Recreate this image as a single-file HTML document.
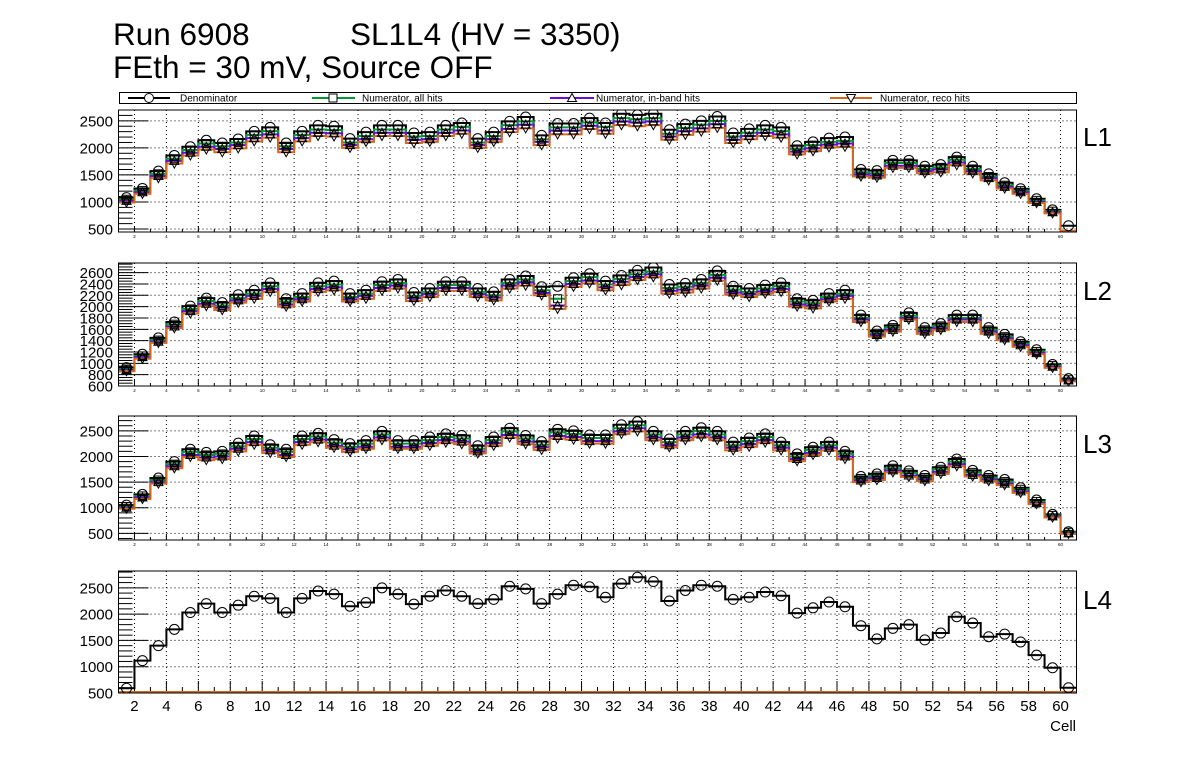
<!DOCTYPE html>
<html><head><meta charset="utf-8">
<style>
html,body{margin:0;padding:0;background:#fff;}
svg{display:block;font-family:"Liberation Sans",Arial,sans-serif;}
</style></head>
<body>
<svg id="c" width="1196" height="772" viewBox="0 0 1196 772" xmlns="http://www.w3.org/2000/svg">
<text x="113" y="45" font-size="31.5">Run 6908</text>
<text x="350" y="45" font-size="31.5">SL1L4 (HV = 3350)</text>
<text x="113" y="78" font-size="31.5">FEth = 30 mV, Source OFF</text>
<g>
<rect x="119.5" y="92.5" width="957" height="11" fill="#fff" stroke="#000" stroke-width="1"/>
<g>
<line x1="128" y1="98" x2="170" y2="98" stroke="#000" stroke-width="2"/>
<circle cx="149" cy="98" r="4.5" fill="#fff" stroke="#000"/>
<text x="180" y="101.5" font-size="10">Denominator</text></g>
<g>
<line x1="312" y1="98" x2="355" y2="98" stroke="#009933" stroke-width="2"/>
<rect x="329" y="94" width="8" height="8" fill="#fff" stroke="#000"/>
<text x="362" y="101.5" font-size="10">Numerator, all hits</text></g>
<g>
<line x1="550" y1="98" x2="594" y2="98" stroke="#6a0dd6" stroke-width="2"/>
<path d="M572,93.5 L576.5,101.5 L567.5,101.5 Z" fill="#fff" stroke="#000"/>
<text x="596" y="101.5" font-size="10">Numerator, in-band hits</text></g>
<g>
<line x1="830" y1="98" x2="872" y2="98" stroke="#d2691e" stroke-width="2"/>
<path d="M851,102.5 L855.5,94.5 L846.5,94.5 Z" fill="#fff" stroke="#000"/>
<text x="880" y="101.5" font-size="10">Numerator, reco hits</text></g>
</g>
</svg>
<script>
// ---- data ----
const cells = Array.from({length:60},(_,i)=>i+1);
const den1 = [1080,1250,1570,1860,2020,2140,2090,2165,2305,2380,2090,2305,2415,2400,2170,2290,2415,2415,2275,2290,2415,2460,2170,2290,2490,2570,2230,2450,2450,2550,2460,2630,2610,2630,2335,2440,2500,2580,2275,2350,2415,2380,2040,2110,2180,2200,1600,1580,1770,1770,1660,1690,1830,1660,1520,1355,1245,1060,855,560];
const all1 = [1050,1210,1520,1800,1960,2080,2030,2100,2240,2310,2030,2240,2340,2330,2100,2220,2340,2340,2210,2220,2340,2390,2100,2220,2420,2490,2160,2380,2380,2470,2390,2550,2530,2550,2260,2370,2430,2500,2210,2280,2340,2310,1980,2050,2110,2130,1550,1530,1720,1720,1610,1640,1780,1610,1470,1310,1210,1030,830,0];
const inb1 = [1020,1180,1480,1760,1910,2020,1980,2050,2180,2250,1980,2180,2280,2270,2050,2160,2280,2280,2150,2160,2280,2320,2050,2160,2350,2430,2110,2320,2320,2410,2320,2490,2470,2490,2210,2310,2360,2440,2150,2220,2280,2250,1930,1990,2060,2080,1510,1490,1670,1670,1570,1600,1730,1570,1440,1280,1180,1000,810,0];
const reco1 = [990,1150,1440,1710,1860,1970,1920,1990,2120,2190,1920,2120,2220,2210,2000,2110,2220,2220,2090,2110,2220,2260,2000,2110,2290,2360,2050,2250,2250,2350,2260,2420,2400,2420,2150,2240,2300,2370,2090,2160,2220,2190,1880,1940,2010,2020,1470,1450,1630,1630,1530,1550,1680,1530,1400,1250,1150,980,790,0];
const den2 = [925,1160,1450,1730,2010,2150,2070,2210,2290,2420,2140,2230,2420,2450,2230,2290,2440,2480,2250,2320,2440,2440,2320,2260,2480,2540,2350,2360,2510,2580,2450,2550,2640,2690,2390,2410,2480,2630,2360,2320,2380,2420,2140,2110,2230,2290,1850,1570,1670,1890,1630,1700,1850,1850,1630,1510,1380,1240,980,730];
const all2 = [900,1130,1410,1690,1960,2100,2020,2150,2230,2360,2090,2170,2360,2390,2170,2230,2380,2420,2190,2260,2380,2380,2260,2200,2420,2480,2290,2140,2450,2520,2390,2490,2570,2620,2330,2350,2420,2560,2300,2260,2320,2360,2090,2060,2170,2230,1800,1530,1630,1840,1590,1660,1800,1800,1590,1470,1350,1210,960,710];
const inb2 = [880,1110,1380,1650,1920,2050,1980,2110,2190,2310,2040,2130,2310,2340,2130,2190,2330,2370,2150,2220,2330,2330,2220,2160,2370,2430,2240,2020,2400,2460,2340,2440,2520,2570,2280,2300,2370,2510,2250,2220,2270,2310,2040,2020,2130,2190,1770,1500,1590,1800,1560,1620,1770,1770,1560,1440,1320,1180,940,700];
const reco2 = [860,1080,1360,1620,1880,2010,1940,2070,2140,2260,2000,2090,2260,2290,2090,2140,2280,2320,2100,2170,2280,2280,2170,2110,2320,2370,2200,1960,2350,2410,2290,2380,2470,2520,2230,2250,2320,2460,2210,2170,2230,2260,2000,1970,2090,2140,1730,1470,1560,1770,1520,1590,1730,1730,1520,1410,1290,1160,920,680];
const den3 = [1050,1260,1580,1900,2140,2080,2100,2260,2400,2230,2140,2400,2450,2330,2250,2310,2490,2310,2310,2380,2440,2410,2210,2380,2550,2410,2290,2530,2500,2420,2420,2620,2680,2490,2340,2490,2560,2490,2280,2360,2440,2280,2050,2180,2280,2100,1610,1660,1820,1720,1630,1790,1950,1730,1630,1550,1390,1150,870,530];
const all3 = [1020,1230,1540,1850,2090,2030,2050,2200,2340,2170,2090,2340,2390,2270,2190,2250,2430,2250,2250,2320,2380,2350,2150,2320,2490,2350,2230,2470,2440,2360,2360,2550,2610,2430,2280,2430,2500,2430,2220,2300,2380,2220,2000,2130,2220,2050,1570,1620,1770,1680,1590,1750,1900,1690,1590,1510,1360,1120,850,520];
const inb3 = [1000,1200,1500,1810,2030,1980,2000,2150,2280,2120,2030,2280,2330,2210,2140,2190,2370,2190,2190,2260,2320,2290,2100,2260,2420,2290,2180,2400,2380,2300,2300,2490,2550,2370,2220,2370,2430,2370,2170,2240,2320,2170,1950,2070,2170,2000,1530,1580,1730,1630,1550,1700,1850,1640,1550,1470,1320,1090,830,500];
const reco3 = [980,1170,1470,1770,1990,1930,1950,2100,2230,2070,1990,2230,2280,2170,2090,2150,2320,2150,2150,2210,2270,2240,2060,2210,2370,2240,2130,2350,2330,2250,2250,2440,2490,2320,2180,2320,2380,2320,2120,2190,2270,2120,1910,2030,2120,1950,1500,1540,1690,1600,1520,1660,1810,1610,1520,1440,1290,1070,810,490];
const den4 = [590,1115,1400,1710,2030,2200,2030,2170,2340,2300,2030,2300,2440,2380,2150,2220,2500,2380,2190,2340,2450,2340,2200,2280,2530,2480,2200,2380,2550,2520,2320,2580,2700,2620,2250,2450,2550,2530,2280,2320,2420,2350,2020,2120,2230,2140,1780,1530,1730,1800,1510,1640,1950,1830,1570,1620,1470,1220,980,600];
const all4 = new Array(60).fill(0);
const inb4 = new Array(60).fill(0);
const reco4 = new Array(60).fill(0);
const yTicksA = [500,1000,1500,2000,2500];
const yTicksB = [600,800,1000,1200,1400,1600,1800,2000,2200,2400,2600];
const xTicks = [2,4,6,8,10,12,14,16,18,20,22,24,26,28,30,32,34,36,38,40,42,44,46,48,50,52,54,56,58,60];

// ---- drawing ----
const svg = document.getElementById('c');
const NS = 'http://www.w3.org/2000/svg';
function mk(tag, attrs, parent){
  const e = document.createElementNS(NS, tag);
  for (const k in attrs) e.setAttribute(k, attrs[k]);
  (parent||svg).appendChild(e);
  return e;
}
const XL = 118.5, XR = 1076.5, XMIN = 1, XMAX = 61;
function X(v){ return XL + (v - XMIN) / (XMAX - XMIN) * (XR - XL); }

const panels = [
  {n:1, top:110, bot:232, ymin:445, ymax:2700, ticks:yTicksA, minor:100, den:den1, all:all1, inb:inb1, reco:reco1, big:false, lab:'L1', ly:137},
  {n:2, top:263, bot:386, ymin:600, ymax:2770, ticks:yTicksB, minor:50, den:den2, all:all2, inb:inb2, reco:reco2, big:false, lab:'L2', ly:291},
  {n:3, top:416, bot:540, ymin:370, ymax:2790, ticks:yTicksA, minor:100, den:den3, all:all3, inb:inb3, reco:reco3, big:false, lab:'L3', ly:444},
  {n:4, top:571, bot:693, ymin:500, ymax:2820, ticks:yTicksA, minor:100, den:den4, all:all4, inb:inb4, reco:reco4, big:true, lab:'L4', ly:600}
];

panels.forEach(p => {
  const g = mk('g', {});
  
  
  const Y = v => p.bot - (v - p.ymin) / (p.ymax - p.ymin) * (p.bot - p.top);
  const YH = v => Math.min(p.bot - 1, Y(v));
  const cid = 'clip' + p.n;
  const cp = mk('clipPath', {id: cid}, g);
  mk('rect', {x: XL, y: p.top, width: XR - XL, height: p.bot - p.top}, cp);
  const grid = mk('g', {stroke:'#000', 'stroke-width':1, 'stroke-dasharray':'1,3'}, g);
  
  
  xTicks.forEach(t => mk('line', {x1:X(t), x2:X(t), y1:p.top, y2:p.bot}, grid));
  p.ticks.forEach(t => mk('line', {x1:XL, x2:XR, y1:Y(t), y2:Y(t)}, grid));
  const ax = mk('g', {stroke:'#000', 'stroke-width':1}, g);
  
  
  for (let v = Math.ceil(p.ymin / p.minor) * p.minor; v <= p.ymax; v += p.minor) {
    const maj = p.ticks.indexOf(v) >= 0;
    mk('line', {x1:XL, x2:XL + (maj ? 30 : 14), y1:Y(v), y2:Y(v)}, ax);
  }
  p.ticks.forEach(t => {
    const tx = mk('text', {x:113, y:Y(t) + 5.5, 'font-size':15, 'text-anchor':'end', stroke:'none'}, g);
    
    
    tx.textContent = t;
  });
  for (let c = 1; c <= 61; c++) {
    const maj = c % 2 === 0;
    mk('line', {x1:X(c), x2:X(c), y1:p.bot, y2:p.bot - (maj ? (p.big ? 12 : 6) : (p.big ? 6 : 3)), stroke:'#000'}, g);
  }
  xTicks.forEach(t => {
    const tx = mk('text', {x:X(t), y: p.big ? p.bot + 18 : p.bot + 6, 'font-size': p.big ? 15 : 4.5, 'text-anchor':'middle'}, g);
    
    
    tx.textContent = t;
  });
  const series = [
    {d:p.den, c:'#000', name:'denominator'},
    {d:p.all, c:'#009933', name:'numerator-all'},
    {d:p.inb, c:'#6a0dd6', name:'numerator-inband'},
    {d:p.reco, c:'#d2691e', name:'numerator-reco'}
  ];
  const hg = mk('g', {'clip-path':'url(#' + cid + ')'}, g);
  series.forEach(s => {
    let d = 'M' + X(1) + ',' + YH(s.d[0]);
    s.d.forEach((v, i) => { d += ' V' + YH(v) + ' H' + X(cells[i] + 1); });
    const path = mk('path', {d:d, fill:'none', stroke:s.c, 'stroke-width':2}, hg);
    
    
  });
  const mg = mk('g', {fill:'none', stroke:'#000', 'stroke-width':1, 'clip-path':'url(#' + cid + ')'}, g);
  series.forEach((s, k) => {
    s.d.forEach((v, i) => {
      if (v <= 0) return;
      const cx = X(cells[i] + 0.5), cy = Y(v);
      let m;
      if (k === 0) m = mk('circle', {cx:cx, cy:cy, r:5}, mg);
      else if (k === 1) m = mk('rect', {x:cx - 4, y:cy - 4, width:8, height:8}, mg);
      else if (k === 2) m = mk('path', {d:'M' + cx + ',' + (cy - 4.5) + ' l4.5,8 h-9 z'}, mg);
      else m = mk('path', {d:'M' + cx + ',' + (cy + 4.5) + ' l4.5,-8 h-9 z'}, mg);
      
      
    });
  });
  const fr = mk('rect', {x:XL, y:p.top, width:XR - XL, height:p.bot - p.top, fill:'none', stroke:'#000', 'stroke-width':1}, g);
  
  
  const lt = mk('text', {x:1083, y:p.ly + 9, 'font-size':26}, g);
  
  
  lt.textContent = p.lab;
});
const xt = mk('text', {x:1076, y:731, 'font-size':15, 'text-anchor':'end'});


xt.textContent = 'Cell';
</script>
</body></html>
